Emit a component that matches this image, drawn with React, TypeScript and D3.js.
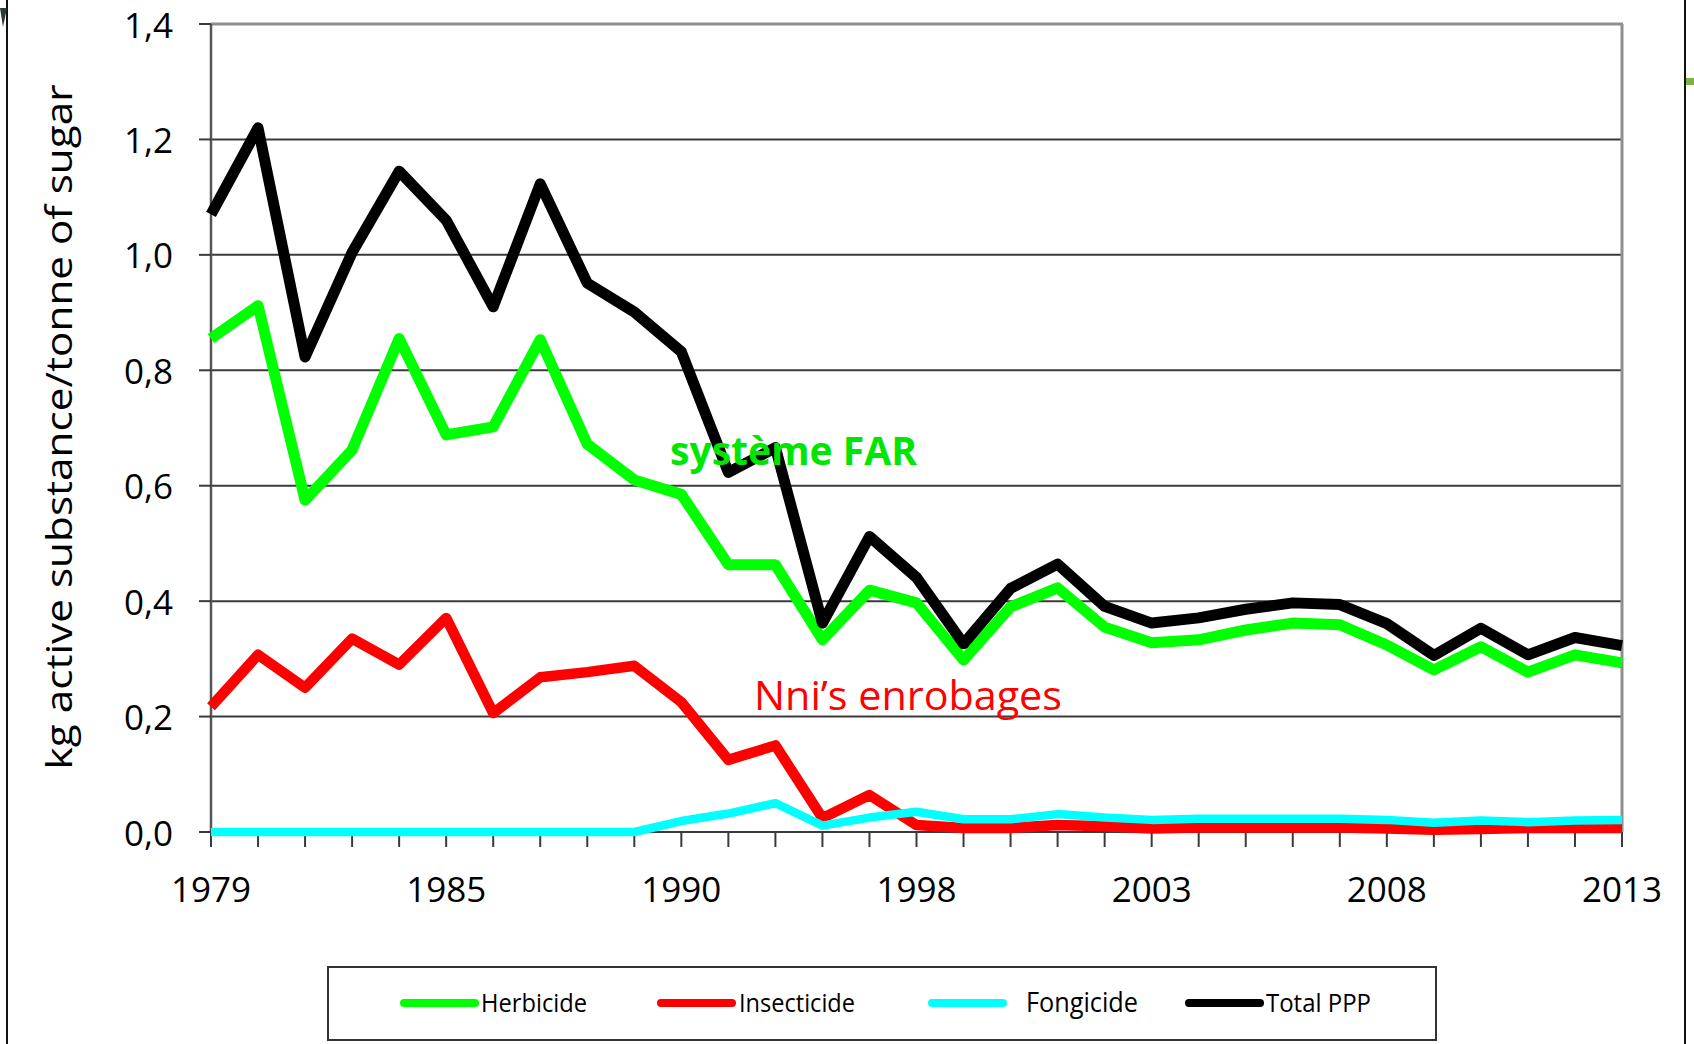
import React from "react";
import * as d3 from "d3";

const categories = [
  "1979", "1980", "1981", "1982", "1983", "1985", "1986", "1987", "1988", "1989",
  "1990", "1991", "1993", "1995", "1996", "1998", "1999", "2000", "2001", "2002",
  "2003", "2004", "2005", "2006", "2007", "2008", "2009", "2010", "2011", "2012", "2013",
];
const shownYears = ["1979", "1985", "1990", "1998", "2003", "2008", "2013"];

const herbicide = [
  0.855, 0.912, 0.575, 0.662, 0.855, 0.688, 0.702, 0.853, 0.672, 0.61,
  0.585, 0.463, 0.463, 0.333, 0.419, 0.397, 0.298, 0.39, 0.423, 0.355,
  0.328, 0.333, 0.35, 0.362, 0.359, 0.324, 0.281, 0.321, 0.277, 0.307, 0.293,
];
const insecticide = [
  0.217, 0.307, 0.25, 0.335, 0.29, 0.371, 0.206, 0.268, 0.277, 0.288,
  0.225, 0.125, 0.15, 0.024, 0.064, 0.012, 0.007, 0.007, 0.012, 0.01,
  0.006, 0.008, 0.008, 0.008, 0.008, 0.006, 0.004, 0.005, 0.007, 0.007, 0.007,
];
const fongicide = [
  0, 0, 0, 0, 0, 0, 0, 0, 0, 0,
  0.019, 0.032, 0.05, 0.011, 0.025, 0.035, 0.022, 0.022, 0.031, 0.025,
  0.021, 0.023, 0.023, 0.023, 0.023, 0.021, 0.016, 0.02, 0.017, 0.02, 0.021,
];
const totalPPP = [
  1.07, 1.22, 0.823, 1.004, 1.145, 1.06, 0.91, 1.123, 0.951, 0.901,
  0.832, 0.623, 0.666, 0.362, 0.512, 0.441, 0.326, 0.422, 0.464, 0.391,
  0.362, 0.371, 0.386, 0.397, 0.394, 0.361, 0.306, 0.353, 0.307, 0.337, 0.323,
];
const yTicks = [0, 0.2, 0.4, 0.6, 0.8, 1.0, 1.2, 1.4];

const series = [
  { name: "Herbicide", values: herbicide, color: "#00ff00", width: 11 },
  { name: "Insecticide", values: insecticide, color: "#ff0000", width: 10.5 },
  { name: "Fongicide", values: fongicide, color: "#00ffff", width: 8.5 },
  { name: "Total PPP", values: totalPPP, color: "#000000", width: 11 },
];

const legendItems = [
  { name: "Herbicide", color: "#00ff00", x1: 404, x2: 475, tx: 481, tw: 106, fs: 25 },
  { name: "Insecticide", color: "#ff0000", x1: 661, x2: 732, tx: 739, tw: 116, fs: 25 },
  { name: "Fongicide", color: "#00ffff", x1: 932, x2: 1003, tx: 1026, tw: 112, fs: 27 },
  { name: "Total PPP", color: "#000000", x1: 1189, x2: 1260, tx: 1266, tw: 105, fs: 25 },
];

const FONT = "'Open Sans', 'Noto Sans', sans-serif";

export default function App() {
  const W = 1694;
  const H = 1044;
  const x = d3.scalePoint<string>().domain(categories).range([211, 1622]);
  const y = d3.scaleLinear().domain([0, 1.4]).range([832, 24]);
  const fmt = (v: number) => v.toFixed(1).replace(".", ",");

  const lineGen = (vals: number[]) =>
    d3
      .line<number>()
      .x((_, i) => x(categories[i]) as number)
      .y((d) => y(d))(vals) as string;

  const x0 = x.range()[0];
  const x1 = x.range()[1];

  return (
    <svg
      width={W}
      height={H}
      viewBox={`0 0 ${W} ${H}`}
      style={{ position: "absolute", left: 0, top: 0, background: "#fff" }}
    >
      <rect x={0} y={0} width={W} height={H} fill="#fff" />
      {/* slide frame remnants */}
      <line x1={7} y1={0} x2={7} y2={H} stroke="#111" strokeWidth={2} />
      <path d="M0,8 L7,8 L3,27 Z" fill="#2f3a33" />
      <line x1={1685} y1={0} x2={1685} y2={H} stroke="#111" strokeWidth={2} />
      <rect x={1686} y={78} width={8} height={7} fill="#7fb241" />

      {/* gridlines */}
      {yTicks.map((t) =>
        t > 0 && t < 1.4 ? (
          <line key={"g" + t} x1={x0} x2={x1} y1={y(t)} y2={y(t)} stroke="#3a3a3a" strokeWidth={2} />
        ) : null
      )}
      {/* top & right border */}
      <line x1={x0} x2={x1 + 1} y1={y(1.4)} y2={y(1.4)} stroke="#8f8f8f" strokeWidth={3} />
      <line x1={x1} x2={x1} y1={y(1.4)} y2={y(0)} stroke="#8f8f8f" strokeWidth={3} />

      {/* y axis */}
      <line x1={x0} x2={x0} y1={y(1.4)} y2={y(0)} stroke="#555" strokeWidth={2.5} />
      {yTicks.map((t) => (
        <g key={"yt" + t}>
          <line x1={x0 - 12} x2={x0} y1={y(t)} y2={y(t)} stroke="#3a3a3a" strokeWidth={2} />
          <text
            x={173}
            y={y(t)}
            textAnchor="end"
            dominantBaseline="central"
            fontFamily={FONT}
            fontSize={35}
            fill="#000"
          >
            {fmt(t)}
          </text>
        </g>
      ))}

      {/* x axis */}
      <line x1={x0} x2={x1} y1={y(0)} y2={y(0)} stroke="#3a3a3a" strokeWidth={2} />
      {categories.map((c) => (
        <line
          key={"xt" + c}
          x1={x(c) as number}
          x2={x(c) as number}
          y1={y(0)}
          y2={y(0) + 15}
          stroke="#3a3a3a"
          strokeWidth={2}
        />
      ))}
      {categories
        .filter((c) => shownYears.includes(c))
        .map((c) => (
          <text
            key={"xl" + c}
            x={x(c) as number}
            y={888}
            textAnchor="middle"
            dominantBaseline="central"
            fontFamily={FONT}
            fontSize={35}
            fill="#000"
          >
            {c}
          </text>
        ))}

      {/* y axis title */}
      <text
        transform={`translate(72,427) rotate(-90)`}
        textAnchor="middle"
        fontFamily={FONT}
        fontSize={36}
        fill="#000"
        textLength={685}
        lengthAdjust="spacingAndGlyphs"
      >
        kg active substance/tonne of sugar
      </text>

      {/* series */}
      {series.map((s) => (
        <path
          key={s.name}
          d={lineGen(s.values)}
          fill="none"
          stroke={s.color}
          strokeWidth={s.width}
          strokeLinejoin="round"
          strokeLinecap="butt"
        />
      ))}

      {/* annotations */}
      <text
        x={670}
        y={465}
        fontFamily={FONT}
        fontWeight="bold"
        fontSize={40}
        fill="#00e600"
        textLength={247}
        lengthAdjust="spacingAndGlyphs"
      >
        système FAR
      </text>
      <text
        x={754}
        y={710}
        fontFamily={FONT}
        fontSize={40}
        fill="#ff0000"
        textLength={308}
        lengthAdjust="spacingAndGlyphs"
      >
        Nni’s enrobages
      </text>

      {/* legend */}
      <rect x={328} y={967} width={1108} height={73} fill="#fff" stroke="#333" strokeWidth={2} />
      {legendItems.map((l) => (
        <g key={"lg" + l.name}>
          <line
            x1={l.x1}
            x2={l.x2}
            y1={1003}
            y2={1003}
            stroke={l.color}
            strokeWidth={8}
            strokeLinecap="round"
          />
          <text
            x={l.tx}
            y={1012}
            fontFamily={FONT}
            fontSize={l.fs}
            fill="#000"
            textLength={l.tw}
            lengthAdjust="spacingAndGlyphs"
          >
            {l.name}
          </text>
        </g>
      ))}
    </svg>
  );
}
